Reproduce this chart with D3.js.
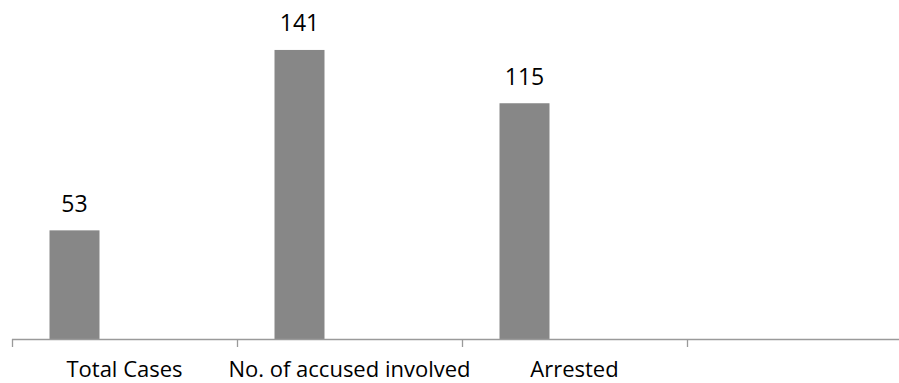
<!DOCTYPE html>
<html>
<head>
<meta charset="utf-8">
<script src="https://cdn.jsdelivr.net/npm/d3@7"></script>
<style>
  body { margin: 0; background: #fff; }
  text { font-family: "Open Sans", sans-serif; fill: #000; }
</style>
</head>
<body>
<svg id="chart"></svg>
<script>
// categories and values
var categories = ["Total Cases", "No. of accused involved", "Arrested", ""];
var values = [53, 141, 115, null];
var series = ["s1", "s2", "s3"];   // only the first series carries data
var yMax = 160;

var width = 899, height = 383;
var plotLeft = 12, plotRight = 912, plotBase = 339, plotTop = 11;

var svg = d3.select("#chart")
    .attr("width", width)
    .attr("height", height);

var x = d3.scaleBand().domain(categories).range([plotLeft, plotRight]).paddingInner(0).paddingOuter(0);
var xs = d3.scaleBand().domain(series).range([0, x.bandwidth()]).paddingInner(0).paddingOuter(0.75);
var y = d3.scaleLinear().domain([0, yMax]).range([plotBase, plotTop]);

var data = categories.map(function(c, i) { return {cat: c, val: values[i]}; })
  .filter(function(d) { return d.val != null; });

// bars
svg.selectAll(".bar")
  .data(data)
  .enter().append("rect")
    .attr("class", "bar")
    .attr("x", function(d) { return x(d.cat) + xs("s1"); })
    .attr("width", xs.bandwidth())
    .attr("y", function(d) { return y(d.val); })
    .attr("height", function(d) { return plotBase - y(d.val); })
    .style("fill", "#878787");

// value labels
svg.selectAll(".val")
  .data(data)
  .enter().append("text")
    .attr("class", "val")
    .attr("x", function(d) { return x(d.cat) + xs("s1") + xs.bandwidth() / 2; })
    .attr("y", function(d) { return y(d.val) - 18.5; })
    .attr("text-anchor", "middle")
    .style("font-size", "23px")
    .text(function(d) { return d.val; });

// x axis: ticks on the band boundaries
svg.append("line")
  .attr("x1", plotLeft).attr("x2", width)
  .attr("y1", plotBase + 0.5).attr("y2", plotBase + 0.5)
  .style("stroke", "#9a9a9a").style("stroke-width", 1.3);

svg.selectAll(".tick")
  .data(categories)
  .enter().append("line")
    .attr("class", "tick")
    .attr("x1", function(d) { return Math.round(x(d)) + 0.5; })
    .attr("x2", function(d) { return Math.round(x(d)) + 0.5; })
    .attr("y1", plotBase).attr("y2", plotBase + 8)
    .style("stroke", "#9a9a9a").style("stroke-width", 1.3);

svg.selectAll(".cat")
  .data(categories.filter(function(c) { return c; }))
  .enter().append("text")
    .attr("class", "cat")
    .attr("x", function(d) { return x(d) + x.bandwidth() / 2; })
    .attr("y", 377)
    .attr("text-anchor", "middle")
    .style("font-size", "22px")
    .text(function(d) { return d; });
</script>
</body>
</html>
